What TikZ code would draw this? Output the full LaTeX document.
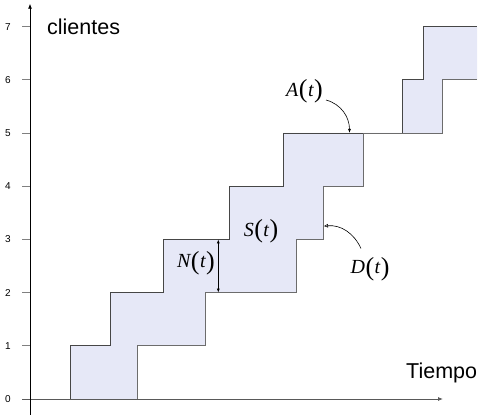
\documentclass[tikz,border=0pt]{standalone}
\usepackage{fontspec}
\setmainfont{Liberation Sans}
\newfontfamily\tms{Liberation Serif}
\usetikzlibrary{arrows.meta}
\definecolor{fillc}{RGB}{230,232,247}
\definecolor{stairc}{RGB}{70,70,70}
\newcommand{\mlab}[2]{{\tms\fontsize{20}{20}\selectfont\itshape #1\kern0.5pt\raisebox{-1.6pt}{\fontsize{26}{26}\selectfont\upshape(}\kern0.5pt#2\kern0.5pt\raisebox{-1.6pt}{\fontsize{26}{26}\selectfont\upshape)}}}
\begin{document}
\begin{tikzpicture}[x=1pt,y=1pt,
  stair/.style={draw=stairc,line width=0.8pt},
  axisline/.style={line width=0.8pt},
  tickmark/.style={draw=gray,line width=0.8pt},
  ticklab/.style={font=\fontsize{10}{10}\selectfont,inner sep=0pt},
  biglab/.style={font=\fontsize{21.5}{21.5}\selectfont,inner sep=0pt,anchor=west},
  mathlab/.style={inner sep=0pt},
  callout/.style={draw=black,line width=0.6pt}]
\useasboundingbox (0,0) rectangle (480,418);
\begin{scope}[y=53.2pt,yshift=19pt]
  % fill between A and D
  \fill[fillc] (70,0) -- (70,1) -- (110,1) -- (110,2) -- (163,2) -- (163,3) -- (229,3) -- (229,4) -- (283,4) -- (283,5) -- (402,5) -- (402,6) -- (423,6) -- (423,7) -- (477,7)
    -- (477,6) -- (442,6) -- (442,5) -- (363,5) -- (363,4) -- (323,4) -- (323,3) -- (296,3) -- (296,2) -- (205,2) -- (205,1) -- (137,1) -- (137,0) -- cycle;
  % axes
  \coordinate (xs) at (22,0);
  \coordinate (xe) at (443,0);
  \coordinate (ys) at (30,-0.3);
  \coordinate (ye) at (30,7.43);
  \draw[axisline,gray!70!black,-{Latex[length=5pt,width=4pt]}] (xs) -- (xe);
  \draw[axisline,black,-{Latex[length=5pt,width=4pt]}] (ys) -- (ye);
  \foreach \k in {1,...,7} {
    \coordinate (t\k a) at (22,\k);
    \coordinate (t\k b) at (30,\k);
    \draw[tickmark] (t\k a) -- (t\k b);
  }
  \foreach \k in {0,...,7} {
    \node[ticklab] (l\k) at (8,\k) {\k};
  }
  % A(t)
  \draw[stair] (70,0) -- (70,1) -- (110,1) -- (110,2) -- (163,2) -- (163,3) -- (229,3) -- (229,4) -- (283,4) -- (283,5) -- (402,5) -- (402,6) -- (423,6) -- (423,7) -- (477,7);
  % D(t)
  \draw[stair,draw=gray!85!black] (137,0) -- (137,1) -- (205,1) -- (205,2) -- (296,2) -- (296,3) -- (323,3) -- (323,4) -- (363,4) -- (363,5) -- (442,5) -- (442,6) -- (477,6);
  % labels
  \node[biglab] (cli) at (47,6.99) {clientes};
  \node[biglab] (tie) at (406,0.49) {Tiempo};
  \node[mathlab] (Alab) at (304.5,5.776) {\mlab{A}{t}};
  \node[mathlab] (Slab) at (261,3.15) {\mlab{S}{t}};
  \node[mathlab] (Nlab) at (196,2.55) {\mlab{N}{t}};
  \node[mathlab] (Dlab) at (370,2.44) {\mlab{D}{t}};
  % N(t) arrow
  \coordinate (n2) at (218.3,2);
  \coordinate (n3) at (218.3,3);
  \draw[callout,{Latex[length=4pt,width=3pt]}-{Latex[length=4pt,width=3pt]}] (n2) -- (n3);
  % A(t) arrow
  \coordinate (as) at (326,5.62);
  \coordinate (ae) at (349.5,5);
  \draw[callout,-{Latex[length=4pt,width=3pt]}] (as) to[out=-15,in=90] (ae);
  % D(t) arrow
  \coordinate (ds) at (361,2.83);
  \coordinate (de) at (324,3.25);
  \draw[callout,-{Triangle[open,length=4pt,width=3.5pt]}] (ds) to[out=115,in=5] (de);
\end{scope}
\end{tikzpicture}
\end{document}
